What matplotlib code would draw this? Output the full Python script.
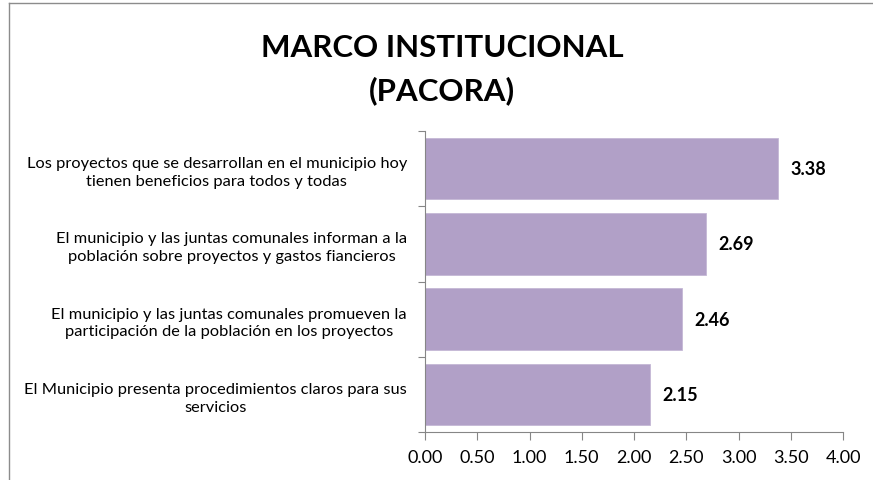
import matplotlib.pyplot as plt
from matplotlib.lines import Line2D

# datos (de arriba hacia abajo)
categorias = [
    "Los proyectos que se desarrollan en el municipio hoy\ntienen beneficios para todos y todas",
    "El municipio y las juntas comunales informan a la\npoblación sobre proyectos y gastos fiancieros",
    "El municipio y las juntas comunales promueven la\nparticipación de la población en los proyectos",
    "El Municipio presenta procedimientos claros para sus\nservicios",
]
valores = [3.38, 2.69, 2.46, 2.15]
xticks = [0.0, 0.5, 1.0, 1.5, 2.0, 2.5, 3.0, 3.5, 4.0]

BAR_COLOR = "#B1A0C7"
AXIS_COLOR = "#868686"
FONT = "Lato"

plt.rcParams["font.family"] = [FONT, "DejaVu Sans"]

fig = plt.figure(figsize=(8.73, 4.81), dpi=100)
W, H = 873, 481
ax = fig.add_axes([425 / W, 1 - 433 / H, (843 - 425) / W, (433 - 132) / H])

# marco gris del gráfico (solo bordes visibles: izquierdo y superior)
fx, fy = 8.5 / W, 1 - 3.5 / H
fig.add_artist(Line2D([fx, fx], [0, fy], transform=fig.transFigure, color="#8c8c8c", lw=1.0))
fig.add_artist(Line2D([fx, 1], [fy, fy], transform=fig.transFigure, color="#8c8c8c", lw=1.0))

pos = list(range(len(categorias)))
ax.barh(pos, valores, height=0.82, color=BAR_COLOR, edgecolor="#c4b8d6", lw=0.6)
ax.set_ylim(len(categorias) - 0.5, -0.5)
ax.set_xlim(0, 4)

for p, v in zip(pos, valores):
    ax.text(v + 0.12, p, f"{v:.2f}", va="center", ha="left",
            fontsize=13, fontweight="bold", color="black")

ax.set_xticks(xticks)
ax.set_xticklabels([f"{t:.2f}" for t in xticks], fontsize=13)
ax.set_yticks([i - 0.5 for i in range(len(categorias) + 1)], minor=False)
ax.set_yticklabels([])
ax.set_yticks(pos, minor=True)
ax.set_yticklabels(categorias, minor=True, fontsize=11.8, multialignment="center",
                   linespacing=1.35)
ax.tick_params(axis="y", which="minor", length=0, pad=13)
ax.tick_params(axis="y", which="major", length=5, color=AXIS_COLOR, direction="out")
ax.tick_params(axis="x", length=6, color=AXIS_COLOR, direction="out", pad=6)

for s in ("top", "right"):
    ax.spines[s].set_visible(False)
for s in ("left", "bottom"):
    ax.spines[s].set_color(AXIS_COLOR)

fig.text(442 / W, 1 - 48 / H, "MARCO INSTITUCIONAL", ha="center", va="center",
         fontsize=22.5, fontweight="bold")
fig.text(442 / W, 1 - 91 / H, "(PACORA)", ha="center", va="center",
         fontsize=22.5, fontweight="bold")

fig.savefig("out.png", dpi=100)
